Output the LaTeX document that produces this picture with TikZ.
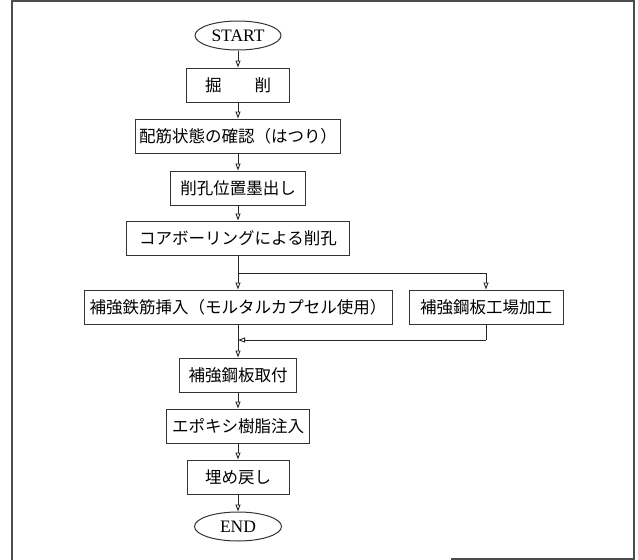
\documentclass[tikz,border=0pt]{standalone}
\usepackage{fontspec}
\setmainfont{Liberation Serif}
\newfontfamily\jp{Noto Sans CJK JP}
\usetikzlibrary{arrows.meta,shapes.geometric}
\begin{document}
\begin{tikzpicture}[x=1pt,y=-1pt,
  box/.style={draw=black!80, line width=1pt, inner sep=0pt, minimum height=34pt,
    font=\jp\fontsize{16.5}{17}\selectfont},
  term/.style={ellipse, draw=black!80, line width=1pt, inner sep=0pt,
    minimum height=29pt, font=\fontsize{17.5}{18}\selectfont},
  conn/.style={draw=black!85, line width=0.9pt},
  arr/.style={conn, -{Triangle[open,length=7pt,width=5pt]}},
  frame/.style={draw=black!70, line width=1.2pt}]
\useasboundingbox (0,0) rectangle (638,560);
\draw[frame] (12,560) -- (12,1) -- (634,1) -- (634,559) -- (451,559);
\node[term, minimum width=86pt] (start) at (238,35.5) {START};
\node[box, minimum width=103pt] (kussaku) at (238,85) {掘　　削};
\node[box, minimum width=205pt] (haikin) at (238,136) {配筋状態の確認（はつり）};
\node[box, minimum width=135pt] (sumidashi) at (238,188) {削孔位置墨出し};
\node[box, minimum width=223pt] (core) at (238,238) {コアボーリングによる削孔};
\node[box, minimum width=308pt] (hokyo) at (238,307) {補強鉄筋挿入（モルタルカプセル使用）};
\node[box, minimum width=154pt] (kojo) at (486,307) {補強鋼板工場加工};
\node[box, minimum width=117pt] (toritsuke) at (238,375) {補強鋼板取付};
\node[box, minimum width=143pt] (epoxy) at (238,426) {エポキシ樹脂注入};
\node[box, minimum width=102pt] (modoshi) at (238,477) {埋め戻し};
\node[term, minimum width=87pt] (end) at (238,526.5) {END};
\coordinate (split) at (238,273);
\coordinate (splitR) at (486,273);
\coordinate (merge) at (238,340);
\coordinate (mergeR) at (486,340);
\draw[arr] (start) -- (kussaku);
\draw[arr] (kussaku) -- (haikin);
\draw[arr] (haikin) -- (sumidashi);
\draw[arr] (sumidashi) -- (core);
\draw[conn] (core.south) -- (split);
\draw[arr] (split) -- (hokyo.north);
\draw[arr] (split) -- (splitR) -- (kojo.north);
\draw[conn] (kojo.south) -- (mergeR);
\draw[arr] (mergeR) -- (merge);
\draw[arr] (hokyo.south) -- (toritsuke.north);
\draw[arr] (toritsuke) -- (epoxy);
\draw[arr] (epoxy) -- (modoshi);
\draw[arr] (modoshi) -- (end);
\end{tikzpicture}
\end{document}
